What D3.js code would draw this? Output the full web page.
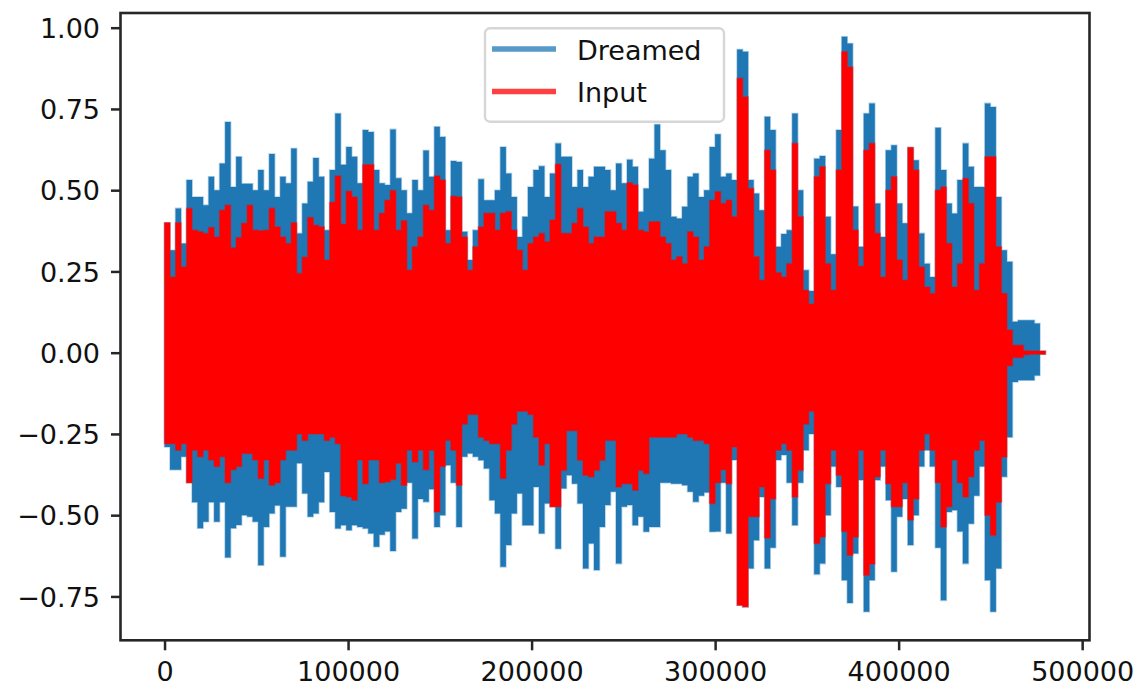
<!DOCTYPE html>
<html><head><meta charset="utf-8">
<script src="https://cdn.jsdelivr.net/npm/d3@7"></script>
<style>
body{margin:0;background:#fff;}
svg{display:block;}
text{font-family:"DejaVu Sans",sans-serif;}
</style>
</head><body>
<svg id="chart" width="1140" height="692"></svg>
<script>
// samples per envelope bin
const binSize = 3000;
const seriesNames = ["Dreamed", "Input"];
const seriesColors = ["#1f77b4", "#ff0000"];

// Dreamed (blue) envelope: max / min per bin
const dreamedTop = [0.40,0.315,0.444,0.336,0.531,0.479,0.479,0.454,0.541,0.50,
0.582,0.71,0.51,0.603,0.52,0.52,0.50,0.562,0.50,0.611,
0.479,0.541,0.521,0.628,0.367,0.459,0.526,0.599,0.541,0.377,
0.562,0.736,0.578,0.633,0.603,0.521,0.685,0.679,0.562,0.521,
0.516,0.687,0.537,0.50,0.429,0.531,0.50,0.622,0.541,0.695,
0.664,0.377,0.59,0.587,0.372,0.285,0.377,0.534,0.469,0.469,
0.50,0.633,0.551,0.479,0.356,0.418,0.51,0.562,0.574,0.479,
0.551,0.644,0.603,0.603,0.51,0.562,0.51,0.541,0.572,0.572,
0.562,0.50,0.582,0.521,0.594,0.572,0.434,0.505,0.597,0.702,
0.623,0.562,0.418,0.413,0.449,0.541,0.551,0.479,0.50,0.633,
0.672,0.541,0.551,0.531,0.933,0.926,0.531,0.49,0.438,0.726,
0.685,0.326,0.365,0.377,0.736,0.50,0.254,0.19,0.597,0.605,
0.418,0.303,0.685,0.972,0.951,0.45,0.326,0.736,0.767,0.459,
0.356,0.623,0.638,0.459,0.398,0.631,0.592,0.367,0.274,0.233,
0.692,0.562,0.459,0.428,0.531,0.644,0.572,0.51,0.51,0.767,
0.756,0.479,0.315,0.28,0.095,0.10,0.10,0.10,0.09,0.005];

const dreamedBottom = [-0.29,-0.36,-0.36,-0.32,-0.40,-0.46,-0.54,-0.52,-0.46,-0.52,
-0.46,-0.63,-0.54,-0.53,-0.50,-0.505,-0.52,-0.654,-0.536,-0.495,
-0.47,-0.628,-0.474,-0.474,-0.34,-0.433,-0.505,-0.495,-0.46,-0.367,
-0.49,-0.541,-0.531,-0.546,-0.531,-0.536,-0.541,-0.556,-0.597,-0.56,
-0.55,-0.61,-0.49,-0.48,-0.40,-0.572,-0.45,-0.459,-0.42,-0.536,
-0.50,-0.346,-0.40,-0.536,-0.32,-0.31,-0.32,-0.331,-0.356,-0.454,
-0.495,-0.659,-0.592,-0.495,-0.433,-0.531,-0.531,-0.413,-0.556,-0.464,
-0.474,-0.603,-0.418,-0.377,-0.403,-0.464,-0.664,-0.587,-0.669,-0.536,
-0.469,-0.428,-0.649,-0.474,-0.469,-0.531,-0.505,-0.551,-0.536,-0.536,
-0.40,-0.40,-0.403,-0.403,-0.408,-0.428,-0.459,-0.44,-0.43,-0.551,
-0.55,-0.40,-0.556,-0.33,-0.777,-0.782,-0.664,-0.577,-0.444,-0.664,
-0.60,-0.33,-0.315,-0.40,-0.531,-0.40,-0.30,-0.25,-0.682,-0.649,
-0.50,-0.35,-0.413,-0.70,-0.77,-0.618,-0.392,-0.797,-0.70,-0.392,
-0.35,-0.454,-0.674,-0.505,-0.45,-0.592,-0.50,-0.35,-0.30,-0.35,
-0.60,-0.762,-0.49,-0.485,-0.55,-0.649,-0.526,-0.44,-0.35,-0.70,
-0.797,-0.664,-0.382,-0.26,-0.09,-0.085,-0.085,-0.085,-0.07,-0.005];

// Input (red) envelope: max / min per bin
const inputTop = [0.40,0.233,0.40,0.264,0.444,0.377,0.372,0.367,0.385,0.356,
0.438,0.454,0.323,0.354,0.398,0.454,0.377,0.375,0.377,0.444,
0.387,0.356,0.336,0.40,0.244,0.294,0.416,0.392,0.387,0.285,
0.463,0.544,0.395,0.497,0.479,0.377,0.578,0.578,0.377,0.429,
0.469,0.499,0.377,0.406,0.254,0.326,0.356,0.454,0.438,0.544,
0.531,0.336,0.481,0.479,0.356,0.254,0.326,0.387,0.429,0.429,
0.377,0.429,0.434,0.377,0.315,0.254,0.336,0.356,0.367,0.341,
0.408,0.580,0.367,0.367,0.398,0.444,0.387,0.336,0.356,0.356,
0.434,0.434,0.398,0.377,0.523,0.516,0.377,0.372,0.403,0.403,
0.356,0.336,0.285,0.295,0.274,0.372,0.356,0.285,0.326,0.469,
0.495,0.459,0.469,0.418,0.844,0.787,0.505,0.295,0.223,0.623,
0.562,0.246,0.233,0.274,0.644,0.418,0.192,0.15,0.541,0.572,
0.274,0.192,0.562,0.926,0.879,0.377,0.266,0.623,0.644,0.367,
0.233,0.50,0.541,0.285,0.223,0.631,0.562,0.264,0.202,0.182,
0.50,0.51,0.336,0.202,0.274,0.536,0.459,0.192,0.274,0.603,
0.603,0.326,0.182,0.07,0.023,0.023,0.006,0.005,0.005,0.005];

const inputBottom = [-0.28,-0.28,-0.30,-0.28,-0.40,-0.30,-0.32,-0.30,-0.33,-0.35,
-0.32,-0.40,-0.36,-0.35,-0.31,-0.31,-0.33,-0.387,-0.33,-0.408,
-0.40,-0.33,-0.30,-0.30,-0.25,-0.27,-0.25,-0.25,-0.25,-0.27,
-0.26,-0.28,-0.44,-0.444,-0.454,-0.33,-0.403,-0.33,-0.33,-0.40,
-0.398,-0.39,-0.34,-0.408,-0.30,-0.336,-0.30,-0.36,-0.30,-0.49,
-0.35,-0.27,-0.30,-0.408,-0.22,-0.19,-0.19,-0.26,-0.27,-0.28,
-0.28,-0.387,-0.30,-0.22,-0.18,-0.18,-0.19,-0.26,-0.346,-0.28,
-0.474,-0.474,-0.362,-0.24,-0.24,-0.331,-0.377,-0.382,-0.362,-0.331,
-0.27,-0.27,-0.413,-0.403,-0.403,-0.423,-0.362,-0.372,-0.26,-0.26,
-0.26,-0.26,-0.26,-0.25,-0.25,-0.26,-0.27,-0.27,-0.28,-0.464,
-0.40,-0.36,-0.403,-0.29,-0.777,-0.782,-0.505,-0.505,-0.413,-0.57,
-0.45,-0.30,-0.28,-0.30,-0.444,-0.362,-0.22,-0.18,-0.587,-0.567,
-0.403,-0.30,-0.377,-0.55,-0.623,-0.567,-0.30,-0.685,-0.65,-0.382,
-0.30,-0.403,-0.474,-0.474,-0.40,-0.515,-0.45,-0.30,-0.25,-0.30,
-0.40,-0.536,-0.474,-0.33,-0.40,-0.444,-0.382,-0.30,-0.27,-0.50,
-0.562,-0.46,-0.321,-0.04,-0.015,-0.015,-0.006,-0.005,-0.005,-0.005];

const xTicks = [0, 100000, 200000, 300000, 400000, 500000];
const xTickLabels = ["0", "100000", "200000", "300000", "400000", "500000"];
const yTicks = [-0.75, -0.5, -0.25, 0, 0.25, 0.5, 0.75, 1.0];
const yTickLabels = ["\u22120.75", "\u22120.50", "\u22120.25", "0.00", "0.25", "0.50", "0.75", "1.00"];

const svg = d3.select("#chart");
const L = 120.5, R = 1089.5, T = 13, B = 640.3;
const x = d3.scaleLinear().domain([-24000, 504000]).range([L, R]);
const y = d3.scaleLinear().domain([-0.885, 1.0452]).range([B, T]);
const axisColor = "#262626";
const fs = 27;

svg.append("defs").append("clipPath").attr("id", "clip")
  .append("rect").attr("x", L).attr("y", T).attr("width", R - L).attr("height", B - T);

function toPoints(top, bot) {
  const pts = top.map((v, i) => ({s: i * binSize, hi: v, lo: bot[i]}));
  const last = pts[pts.length - 1];
  pts.push({s: top.length * binSize, hi: last.hi, lo: last.lo});
  return pts;
}
const area = d3.area()
  .x(d => x(d.s)).y0(d => y(d.lo)).y1(d => y(d.hi))
  .curve(d3.curveStepAfter);

const g = svg.append("g").attr("clip-path", "url(#clip)");
const series = [
  {name: seriesNames[0], color: seriesColors[0], pts: toPoints(dreamedTop, dreamedBottom)},
  {name: seriesNames[1], color: seriesColors[1], pts: toPoints(inputTop, inputBottom)}
];
series.forEach(s => {
  g.append("path").attr("d", area(s.pts))
    .attr("fill", s.color)
    .attr("stroke", s.color).attr("stroke-opacity", 0.35).attr("stroke-width", 1.6)
    .attr("stroke-linejoin", "miter");
});

// axes
const xAxis = d3.axisBottom(x).tickValues(xTicks).tickFormat((d, i) => xTickLabels[i])
  .tickSize(10).tickPadding(11.5);
const yAxis = d3.axisLeft(y).tickValues(yTicks).tickFormat((d, i) => yTickLabels[i])
  .tickSize(9.5).tickPadding(11);

const gx = svg.append("g").attr("transform", `translate(0,${B})`).call(xAxis);
const gy = svg.append("g").attr("transform", `translate(${L},0)`).call(yAxis);
[gx, gy].forEach(a => {
  a.select(".domain").remove();
  a.selectAll(".tick line").attr("stroke", axisColor).attr("stroke-width", 2.5);
  a.selectAll(".tick text").attr("fill", "#111").attr("font-size", fs)
    .attr("font-family", "DejaVu Sans, sans-serif");
});
gy.selectAll(".tick text").attr("dy", "0.36em");

// spines
svg.append("rect").attr("x", L).attr("y", T).attr("width", R - L).attr("height", B - T)
  .attr("fill", "none").attr("stroke", axisColor).attr("stroke-width", 2.6);

// legend
const lg = svg.append("g");
lg.append("rect").attr("x", 485).attr("y", 28.3).attr("width", 239).attr("height", 93.4)
  .attr("rx", 5).attr("fill", "#fff").attr("fill-opacity", 0.8)
  .attr("stroke", "#d6d6d6").attr("stroke-width", 2.4);
const legendY = [49, 91.5];
series.forEach((s, i) => {
  lg.append("line").attr("x1", 492).attr("x2", 556).attr("y1", legendY[i]).attr("y2", legendY[i])
    .attr("stroke", s.color).attr("stroke-opacity", 0.75).attr("stroke-width", 5.5);
  lg.append("text").attr("x", 577).attr("y", legendY[i] + 10.5)
    .attr("font-size", fs).attr("fill", "#111").text(s.name);
});
</script>
</body></html>
